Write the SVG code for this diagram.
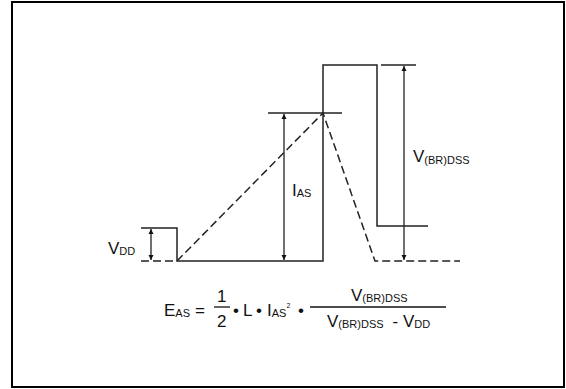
<svg xmlns="http://www.w3.org/2000/svg" width="566" height="389" viewBox="0 0 566 389">
<style>
.s{fill:none;stroke:#222;stroke-width:1.5}
.d{fill:none;stroke:#222;stroke-width:1.5;stroke-dasharray:8 4}
.a{fill:none;stroke:#222;stroke-width:1.3;marker-start:url(#ah);marker-end:url(#ah)}
text{font-family:"Liberation Sans",Arial,sans-serif;fill:#111}
.m{font-size:17px}
.b{font-size:11px}
</style>
<defs>
<marker id="ah" viewBox="0 0 10 10" refX="10" refY="5" markerWidth="5" markerHeight="8" orient="auto-start-reverse" markerUnits="userSpaceOnUse">
<path d="M0,0 L10,5 L0,10 z" fill="#111"/>
</marker>
</defs>
<rect x="12" y="2" width="552" height="385" fill="#fff" stroke="#000" stroke-width="2"/>
<g id="waveform">
<path class="s" d="M141,228 H177 V261 H323 V65 H377 V226 H428"/>
<path class="d" d="M141,261 H177"/>
<path class="d" d="M177,261 L323,113 L375,261 H460"/>
<path class="s" d="M268,113 H342"/>
<path class="s" d="M381,65 H416"/>
</g>
<g id="connectors">
<line class="a" x1="151" y1="229" x2="151" y2="260"/>
<line class="a" x1="284" y1="114" x2="284" y2="260"/>
<line class="a" x1="404" y1="66" x2="404" y2="260"/>
</g>
<g id="label-vdd"><text x="108" y="254" class="m">V<tspan class="b" dy="1">DD</tspan></text></g>
<g id="label-ias"><text x="292" y="196" class="m">I<tspan class="b" dy="1">AS</tspan></text></g>
<g id="label-vbr"><text x="413" y="162" class="m">V<tspan class="b" dy="2">(BR)DSS</tspan></text></g>
<g id="formula">
<text x="164" y="316" class="m">E<tspan class="b" dy="1">AS</tspan><tspan dy="-1" dx="5">=</tspan></text>
<text x="217" y="302" class="m">1</text>
<line x1="214" y1="307" x2="230" y2="307" stroke="#111" stroke-width="1.3"/>
<text x="217" y="327" class="m">2</text>
<text x="233" y="316" class="m">•</text>
<text x="243" y="316" class="m">L</text>
<text x="256" y="316" class="m">•</text>
<text x="267" y="316" class="m">I<tspan class="b" dy="1">AS</tspan><tspan class="b" dy="-9" style="font-size:7px">2</tspan></text>
<text x="298" y="316" class="m">•</text>
<line x1="310" y1="307" x2="446" y2="307" stroke="#111" stroke-width="1.3"/>
<text x="351" y="301" class="m">V<tspan class="b" dy="1">(BR)DSS</tspan></text>
<text x="327" y="327" class="m">V<tspan class="b" dy="1">(BR)DSS</tspan><tspan dy="-1" dx="9">- V</tspan><tspan class="b" dy="1">DD</tspan></text>
</g>
</svg>
